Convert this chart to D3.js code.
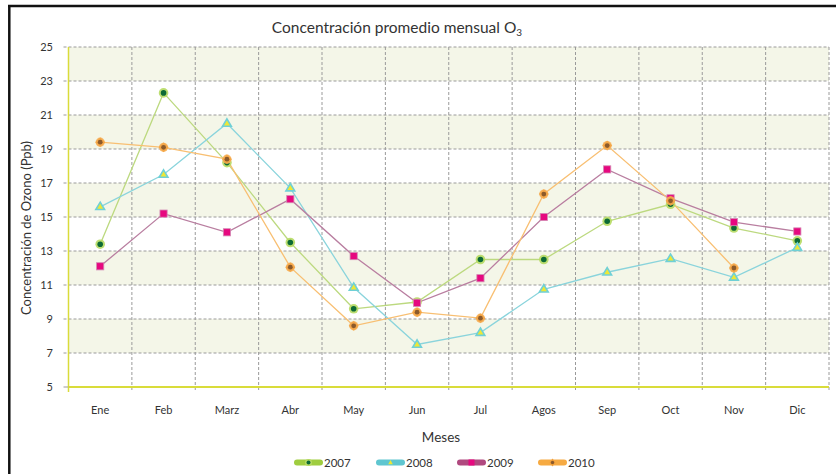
<!DOCTYPE html>
<html>
<head>
<meta charset="utf-8">
<script src="https://cdn.jsdelivr.net/npm/d3@7/dist/d3.min.js"></script>
<style>
  html, body { margin: 0; padding: 0; background: #fff; }
  svg { display: block; }
  text { font-family: Lato, "Open Sans", sans-serif; fill: #333; }
</style>
</head>
<body>
<svg id="chart" width="836" height="474"></svg>
<script>
const months = ["Ene", "Feb", "Marz", "Abr", "May", "Jun", "Jul", "Agos", "Sep", "Oct", "Nov", "Dic"];
const years = ["2007", "2008", "2009", "2010"];
const values2007 = [13.4, 22.3, 18.2, 13.5, 9.6, 10.0, 12.5, 12.5, 14.75, 15.75, 14.35, 13.6];
const values2008 = [15.6, 17.5, 20.5, 16.7, 10.85, 7.5, 8.2, 10.75, 11.75, 12.55, 11.45, 13.2];
const values2009 = [12.1, 15.2, 14.1, 16.05, 12.7, 9.95, 11.4, 15.0, 17.8, 16.1, 14.7, 14.15];
const values2010 = [19.4, 19.1, 18.4, 12.05, 8.6, 9.4, 9.05, 16.35, 19.2, 15.95, 12.0, null];
const yTicks = [5, 7, 9, 11, 13, 15, 17, 19, 21, 23, 25];

const seriesValues = [values2007, values2008, values2009, values2010];
const lineColors = ["#bcd97f", "#8ad4dc", "#b97ea0", "#f8bf72"];
const legendColors = ["#9fcd3f", "#5fc6d0", "#b0497f", "#f6aa42"];

const svg = d3.select("#chart");
const pLeft = 68.5, pRight = 829, pTop = 47, pBottom = 387;

const x = d3.scaleBand().domain(months).range([pLeft, pRight]).padding(0);
const y = d3.scaleLinear().domain([5, 25]).range([pBottom, pTop]);

// frame
svg.append("line").attr("x1", 8).attr("x2", 836).attr("y1", 6).attr("y2", 6)
  .attr("stroke", "#111").attr("stroke-width", 2.5);
svg.append("line").attr("x1", 9.3).attr("x2", 9.3).attr("y1", 5).attr("y2", 474)
  .attr("stroke", "#111").attr("stroke-width", 2.5);

// bands
const bandPairs = d3.range(0, yTicks.length - 1).map(i => [yTicks[i], yTicks[i + 1]]);
svg.append("g").selectAll("rect").data(bandPairs).join("rect")
  .attr("x", pLeft).attr("width", pRight - pLeft)
  .attr("y", d => y(d[1])).attr("height", d => y(d[0]) - y(d[1]))
  .attr("fill", (d, i) => i % 2 === 1 ? "#f4f6e8" : "#ffffff");

// grid horizontal
svg.append("g").selectAll("line").data(yTicks.filter(v => v !== 5)).join("line")
  .attr("x1", pLeft - 5).attr("x2", pRight)
  .attr("y1", d => y(d)).attr("y2", d => y(d))
  .attr("stroke", "#9a9a9a").attr("stroke-width", 1).attr("stroke-dasharray", "3,2");
// grid vertical
svg.append("g").selectAll("line").data(months).join("line")
  .attr("x1", d => x(d) + x.bandwidth()).attr("x2", d => x(d) + x.bandwidth())
  .attr("y1", pTop).attr("y2", pBottom + 5)
  .attr("stroke", "#9a9a9a").attr("stroke-width", 1).attr("stroke-dasharray", "3,2");

// axes
svg.append("line").attr("x1", pLeft).attr("x2", pLeft).attr("y1", pTop).attr("y2", pBottom + 5)
  .attr("stroke", "#d9dc3a").attr("stroke-width", 1.5);
svg.append("line").attr("x1", pLeft - 5).attr("x2", pLeft).attr("y1", pBottom).attr("y2", pBottom)
  .attr("stroke", "#9a9a9a").attr("stroke-width", 1);
svg.append("line").attr("x1", pLeft).attr("x2", pRight).attr("y1", pBottom).attr("y2", pBottom)
  .attr("stroke", "#d9dc3a").attr("stroke-width", 2);

// y tick labels
svg.append("g").selectAll("text").data(yTicks).join("text")
  .attr("x", 53).attr("y", d => y(d)).attr("dy", "0.35em")
  .attr("text-anchor", "end").attr("font-size", 11).text(d => d);

// x tick labels
svg.append("g").selectAll("text").data(months).join("text")
  .attr("x", d => x(d) + x.bandwidth() / 2).attr("y", 414)
  .attr("text-anchor", "middle").attr("font-size", 11).text(d => d);

// titles
const title = svg.append("text").attr("x", 397).attr("y", 33).attr("text-anchor", "middle")
  .attr("font-size", 15.5).attr("fill", "#222");
title.append("tspan").text("Concentración promedio mensual O");
title.append("tspan").attr("font-size", 10).attr("dy", 3).text("3");

svg.append("text").attr("x", 441).attr("y", 442).attr("text-anchor", "middle")
  .attr("font-size", 13.5).text("Meses");

svg.append("text").attr("transform", "translate(31,228) rotate(-90)")
  .attr("text-anchor", "middle").attr("font-size", 13).text("Concentración de Ozono (Ppb)");

// markers
function drawMarker(g, k, cx, cy) {
  if (k === 0) {
    g.append("circle").attr("cx", cx).attr("cy", cy).attr("r", 4.8).attr("fill", "#b6da62").attr("opacity", 0.9);
    g.append("circle").attr("cx", cx).attr("cy", cy).attr("r", 2.8).attr("fill", "#0c6a35");
  } else if (k === 1) {
    const r = 4.6;
    const pts = [[cx, cy - r], [cx + r * 0.95, cy + r * 0.6], [cx - r * 0.95, cy + r * 0.6]];
    g.append("path").attr("d", "M" + pts.map(p => p.join(",")).join("L") + "Z")
      .attr("fill", "#eee735").attr("stroke", "#6fd0d6").attr("stroke-width", 1.6);
  } else if (k === 2) {
    const h = 3.6;
    g.append("rect").attr("x", cx - h).attr("y", cy - h).attr("width", 2 * h).attr("height", 2 * h)
      .attr("fill", "#e6087f").attr("stroke", "#d48ab4").attr("stroke-width", 0.8);
  } else {
    g.append("circle").attr("cx", cx).attr("cy", cy).attr("r", 4.6).attr("fill", "#f7b35c").attr("opacity", 0.9);
    g.append("path").attr("d", `M${cx},${cy - 5}L${cx + 5},${cy}L${cx},${cy + 5}L${cx - 5},${cy}Z`)
      .attr("fill", "#f29f3a").attr("opacity", 0.7);
    g.append("circle").attr("cx", cx).attr("cy", cy).attr("r", 2.4).attr("fill", "#8b5a2b");
  }
}

const cxOf = m => x(m) + x.bandwidth() / 2;
const line = d3.line().defined(d => d.v != null).x(d => cxOf(d.m)).y(d => y(d.v));

seriesValues.forEach((vals, k) => {
  const data = months.map((m, i) => ({ m, v: vals[i] }));
  svg.append("path").datum(data).attr("d", line)
    .attr("fill", "none").attr("stroke", lineColors[k]).attr("stroke-width", 1.3);
});
seriesValues.forEach((vals, k) => {
  const g = svg.append("g");
  months.forEach((m, i) => {
    if (vals[i] != null) drawMarker(g, k, cxOf(m), y(vals[i]));
  });
});

// legend
const legendX = [294, 376, 457, 538];
years.forEach((yr, k) => {
  const g = svg.append("g");
  const lx = legendX[k], ly = 462.5;
  g.append("rect").attr("x", lx).attr("y", ly - 3).attr("width", 29).attr("height", 6).attr("rx", 3)
    .attr("fill", legendColors[k]);
  const cx = lx + 14.5;
  if (k === 0) {
    g.append("circle").attr("cx", cx).attr("cy", ly).attr("r", 3.5).attr("fill", "#b6da62");
    g.append("circle").attr("cx", cx).attr("cy", ly).attr("r", 2).attr("fill", "#0c6a35");
  } else if (k === 1) {
    g.append("path").attr("d", `M${cx},${ly - 2.5}L${cx + 2.3},${ly + 1.8}L${cx - 2.3},${ly + 1.8}Z`).attr("fill", "#eee735");
  } else if (k === 2) {
    g.append("rect").attr("x", cx - 3).attr("y", ly - 3).attr("width", 6).attr("height", 6).attr("fill", "#e6087f");
  } else {
    g.append("path").attr("d", `M${cx},${ly - 4}L${cx + 3},${ly}L${cx},${ly + 4}L${cx - 3},${ly}Z`).attr("fill", "#f29f3a");
    g.append("circle").attr("cx", cx).attr("cy", ly).attr("r", 1.7).attr("fill", "#8b5a2b");
  }
  g.append("text").attr("x", lx + 30).attr("y", ly).attr("dy", "0.35em")
    .attr("font-size", 11.5).text(yr);
});
</script>
</body>
</html>
